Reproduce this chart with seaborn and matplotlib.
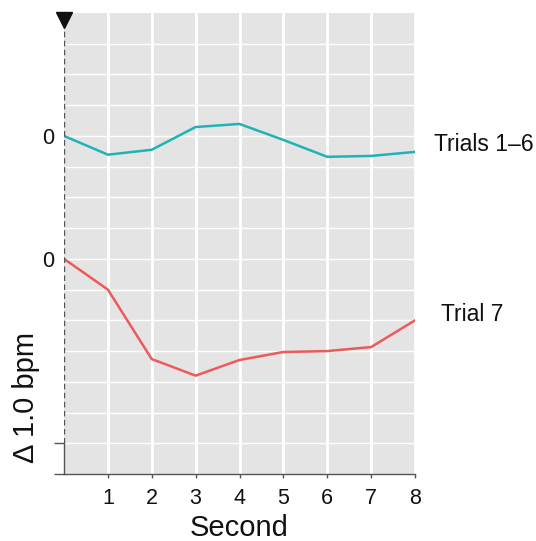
import matplotlib
matplotlib.use("Agg")
import matplotlib.pyplot as plt
import seaborn as sns
import pandas as pd

# ---- data ----
seconds = [0, 1, 2, 3, 4, 5, 6, 7, 8]
trials_1_6 = [0.0, -0.61, -0.45, 0.29, 0.39, -0.13, -0.68, -0.65, -0.52]
trial_7 = [0.0, -1.0, -3.26, -3.8, -3.29, -3.03, -3.0, -2.87, -2.0]
series_names = ["Trials 1\u20136", "Trial 7"]
series_colors = ["#1fb3b6", "#ec5a5a"]
x_tick_labels = ["1", "2", "3", "4", "5", "6", "7", "8"]

# vertical stacking offsets (layout, bpm units)
offsets = {"Trials 1\u20136": 11, "Trial 7": 7}

sns.set_theme(style="darkgrid")
plt.rcParams["font.family"] = ["Liberation Sans", "DejaVu Sans"]

df = pd.DataFrame({
    "Second": seconds * 2,
    "delta": trials_1_6 + trial_7,
    "Series": [series_names[0]] * len(seconds) + [series_names[1]] * len(seconds),
})
df["y"] = df["delta"] + df["Series"].map(offsets)

W, H = 536, 541
fig = plt.figure(figsize=(W / 100, H / 100), dpi=100)
fig.patch.set_facecolor("white")
ax = fig.add_axes([64 / W, 1 - 474 / H, 351 / W, 461 / H])
ax.set_facecolor("#e4e4e4")
ax.grid(False)

for v in range(1, 9):
    ax.axvline(v, color="white", lw=2.0, zorder=0.5)
for h in range(1, 15):
    ax.axhline(h, color="white", lw=1.0, zorder=0.5)

sns.lineplot(data=df, x="Second", y="y", hue="Series", hue_order=series_names,
             palette=series_colors, lw=1.8, legend=False, ax=ax, zorder=3)

ax.set_xlim(0, 8)
ax.set_ylim(0, 15)

# stimulus onset: dashed line + marker
ax.axvline(0, ymin=1 / 15, ymax=1, color="#555555", ls=(0, (4, 2.5)), lw=1.0, zorder=4)
ax.plot([0], [14.76], marker="v", ms=11, color="#111111", clip_on=False, zorder=5)

for s in ["top", "right"]:
    ax.spines[s].set_visible(False)
ax.spines["left"].set_bounds(0, 1)
for s in ["left", "bottom"]:
    ax.spines[s].set_color("#555555")
    ax.spines[s].set_linewidth(1.0)
    ax.spines[s].set_visible(True)

ax.set_xticks(range(1, 9))
ax.set_xticklabels(x_tick_labels)
ax.tick_params(axis="x", which="major", length=3, width=1, color="#555555",
               labelsize=15.5, labelcolor="#111111", pad=7, bottom=True)

ax.set_yticks([7, 11])
ax.set_yticklabels(["0", "0"])
ax.set_yticks([0, 1], minor=True)
ax.tick_params(axis="y", which="major", length=0, labelsize=15.5,
               labelcolor="#111111", pad=7, left=True)
ax.tick_params(axis="y", which="minor", length=7, width=1, color="#555555", left=True)

ax.set_xlabel("Second", fontsize=21, color="#111111", labelpad=4)
ax.set_ylabel("\u0394 1.0 bpm", fontsize=21, color="#111111")
ax.yaxis.set_label_coords(-0.068, 0.165)

ax.text(8.43, 10.71, series_names[0], fontsize=16.5, color="#111111", va="center", ha="left")
ax.text(8.59, 5.19, series_names[1], fontsize=16.5, color="#111111", va="center", ha="left")

fig.savefig("out.png", dpi=100)
